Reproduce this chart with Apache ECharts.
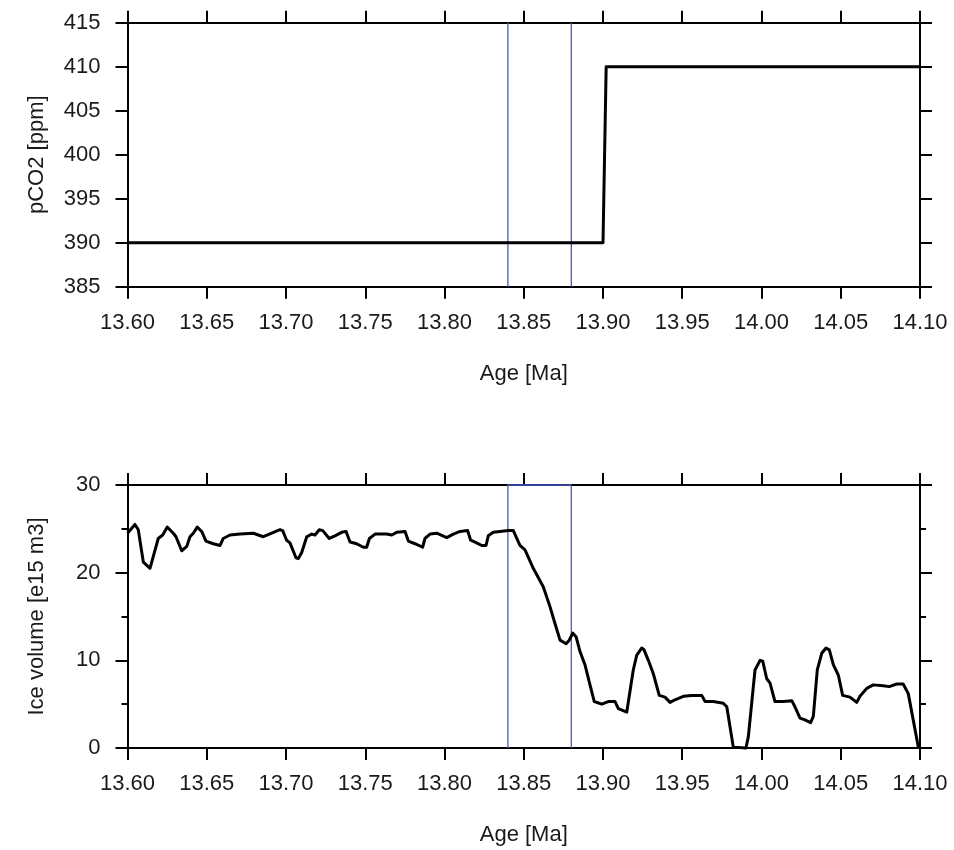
<!DOCTYPE html>
<html>
<head>
<meta charset="utf-8">
<script src="https://cdn.jsdelivr.net/npm/echarts@6/dist/echarts.min.js"></script>
<style>
html,body{margin:0;padding:0;background:#fff;}
#chart{width:954px;height:850px;}
</style>
</head>
<body>
<div id="chart"></div>
<script>
// ---- data ----
const xTickMin = 13.60, xTickMax = 14.10, xTickStep = 0.05;
const co2Min = 385, co2Max = 415, co2Step = 5;
const iceMin = 0, iceMax = 30, iceStep = 10;
const markerAges = [13.84, 13.88];

const co2Ages = [13.60, 13.90, 13.902, 14.10];
const co2Values = [390, 390, 410, 410];

const iceAges = [
 13.6000,13.6047,13.6068,13.6100,13.6142,13.6194,13.6222,13.6251,13.6289,13.6306,
 13.6342,13.6374,13.6394,13.6415,13.6440,13.6468,13.6495,13.6541,13.6584,13.6604,
 13.6647,13.6710,13.6794,13.6857,13.6910,13.6962,13.6979,13.7004,13.7025,13.7063,
 13.7078,13.7099,13.7131,13.7162,13.7183,13.7210,13.7232,13.7273,13.7309,13.7351,
 13.7379,13.7404,13.7446,13.7488,13.7509,13.7526,13.7562,13.7635,13.7667,13.7698,
 13.7751,13.7772,13.7814,13.7862,13.7877,13.7909,13.7951,13.8014,13.8056,13.8098,
 13.8146,13.8165,13.8203,13.8235,13.8262,13.8276,13.8308,13.8350,13.8403,13.8434,
 13.8456,13.8476,13.8508,13.8560,13.8623,13.8666,13.8697,13.8729,13.8767,13.8787,
 13.8809,13.8830,13.8855,13.8886,13.8918,13.8945,13.8992,13.9033,13.9076,13.9097,
 13.9150,13.9160,13.9191,13.9213,13.9244,13.9259,13.9286,13.9317,13.9355,13.9391,
 13.9423,13.9454,13.9507,13.9560,13.9623,13.9644,13.9696,13.9759,13.9781,13.9822,
 13.9833,13.9902,13.9917,13.9959,13.9991,14.0008,14.0033,14.0054,14.0085,14.0138,
 14.0191,14.0211,14.0243,14.0274,14.0310,14.0327,14.0352,14.0380,14.0407,14.0428,
 14.0453,14.0485,14.0512,14.0558,14.0601,14.0621,14.0664,14.0705,14.0768,14.0806,
 14.0853,14.0894,14.0926,14.0989,14.1000
];
const iceValues = [
 24.5,25.5,24.9,21.2,20.5,23.9,24.3,25.2,24.5,24.1,
 22.5,23.0,24.1,24.5,25.2,24.7,23.6,23.3,23.1,23.9,
 24.3,24.4,24.5,24.1,24.5,24.9,24.8,23.7,23.4,21.7,
 21.6,22.3,24.1,24.4,24.3,24.9,24.8,23.9,24.2,24.6,
 24.7,23.5,23.3,22.9,22.9,23.9,24.4,24.4,24.3,24.6,
 24.7,23.6,23.3,22.9,23.9,24.4,24.5,24.0,24.4,24.7,
 24.8,23.7,23.4,23.1,23.1,24.2,24.6,24.7,24.8,24.8,
 23.9,23.1,22.6,20.5,18.4,16.1,14.2,12.3,11.9,12.3,
 13.1,12.7,11.0,9.5,7.2,5.3,5.0,5.3,5.3,4.5,
 4.1,3.9,8.9,10.6,11.4,11.2,10.0,8.5,6.0,5.8,
 5.2,5.5,5.9,6.0,6.0,5.3,5.3,5.1,4.7,0.1,
 0.0,0.0,1.3,8.9,10.0,9.9,7.9,7.4,5.3,5.3,
 5.4,4.7,3.4,3.2,2.9,3.6,8.9,10.8,11.4,11.2,
 9.5,8.3,6.0,5.8,5.2,5.9,6.8,7.2,7.1,7.0,
 7.3,7.3,6.2,0.15,0.0
];

// ---- styles ----
const FONT = "'Liberation Sans', Arial, Helvetica, sans-serif";
const TXT = '#1a1a1a';
const AX = '#000';
const BLUE = '#4a58c8';

const pair = (xs, ys) => xs.map((x, i) => [x, ys[i]]);

function xAx(grid, pos, showLabel) {
  const a = {
    gridIndex: grid, type: 'value', position: pos,
    min: xTickMin, max: xTickMax, interval: xTickStep,
    axisLine: {show: true, onZero: false, lineStyle: {color: AX, width: 2}},
    axisTick: {show: true, inside: false, length: 12, lineStyle: {color: AX, width: 2}},
    axisLabel: {show: showLabel, margin: 25, fontSize: 22, fontFamily: FONT, color: TXT,
      formatter: v => v.toFixed(2)},
    splitLine: {show: false}
  };
  if (showLabel) {
    a.name = 'Age [Ma]';
    a.nameLocation = 'middle';
    a.nameGap = 76;
    a.nameTextStyle = {fontSize: 22, fontFamily: FONT, color: TXT};
  }
  return a;
}
function yAx(grid, pos, mn, mx, step, minor, name) {
  const a = {
    gridIndex: grid, type: 'value', position: pos,
    min: mn, max: mx, interval: step,
    axisLine: {show: true, onZero: false, lineStyle: {color: AX, width: 2}},
    axisTick: {show: true, inside: false, length: 12, lineStyle: {color: AX, width: 2}},
    minorTick: {show: minor, splitNumber: 2, length: 6, lineStyle: {color: AX, width: 2}},
    axisLabel: {show: !!name, margin: 27, fontSize: 22, fontFamily: FONT, color: TXT},
    splitLine: {show: false}, minorSplitLine: {show: false}
  };
  if (name) {
    a.name = name;
    a.nameLocation = 'middle';
    a.nameGap = 80;
    a.nameTextStyle = {fontSize: 22, fontFamily: FONT, color: TXT};
  }
  return a;
}

const topMarkers = markerAges.map(age => ({
  type: 'line', xAxisIndex: 0, yAxisIndex: 0, z: 1,
  data: [[age, co2Min], [age, co2Max]],
  showSymbol: false, symbol: 'none', silent: true, clip: false,
  lineStyle: {color: BLUE, width: 1.3}
}));

const option = {
  animation: false,
  backgroundColor: '#fff',
  grid: [
    {left: 127.5, top: 22.7, width: 792.5, height: 264},
    {left: 127.5, top: 485, width: 792.5, height: 263}
  ],
  xAxis: [xAx(0, 'bottom', true), xAx(0, 'top', false), xAx(1, 'bottom', true), xAx(1, 'top', false)],
  yAxis: [
    yAx(0, 'left', co2Min, co2Max, co2Step, false, 'pCO2 [ppm]'),
    yAx(0, 'right', co2Min, co2Max, co2Step, false, null),
    yAx(1, 'left', iceMin, iceMax, iceStep, true, 'Ice volume [e15 m3]'),
    yAx(1, 'right', iceMin, iceMax, iceStep, true, null)
  ],
  series: [
    ...topMarkers,
    {
      type: 'line', xAxisIndex: 0, yAxisIndex: 0, z: 3,
      data: pair(co2Ages, co2Values), showSymbol: false, symbol: 'none', clip: false,
      lineStyle: {color: '#000', width: 3, join: 'round'}
    },
    {
      type: 'line', xAxisIndex: 2, yAxisIndex: 2, z: 1,
      data: [[markerAges[0], iceMin], [markerAges[0], iceMax], [markerAges[1], iceMax], [markerAges[1], iceMin]],
      showSymbol: false, symbol: 'none', silent: true, clip: false,
      lineStyle: {color: BLUE, width: 1.3}
    },
    {
      type: 'line', xAxisIndex: 2, yAxisIndex: 2, z: 3,
      data: pair(iceAges, iceValues), showSymbol: false, symbol: 'none', clip: false,
      lineStyle: {color: '#000', width: 3, join: 'round'}
    }
  ]
};

const chart = echarts.init(document.getElementById('chart'), null, {renderer: 'canvas'});
chart.setOption(option);
</script>
</body>
</html>
